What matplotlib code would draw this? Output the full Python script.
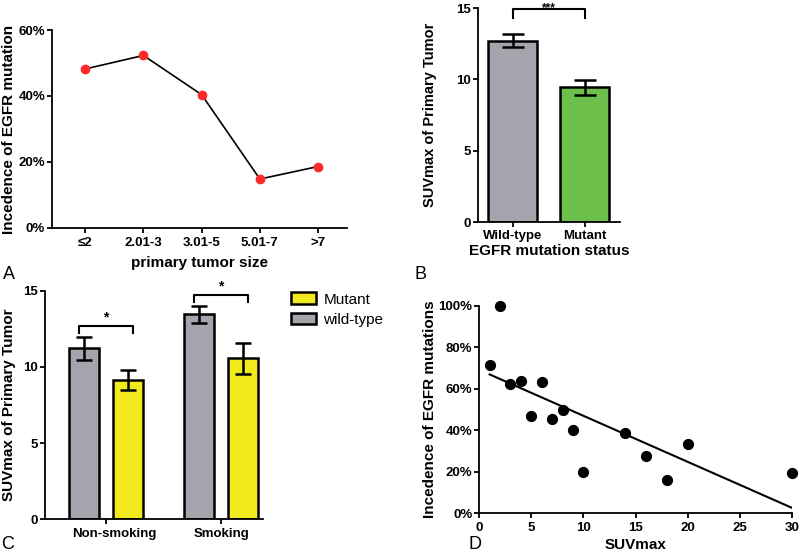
import numpy as np
import matplotlib
matplotlib.use("Agg")
import matplotlib.pyplot as plt
from matplotlib.patches import Patch
from matplotlib.ticker import FuncFormatter
from matplotlib.transforms import blended_transform_factory, ScaledTranslation

plt.rcParams['font.family'] = ['Liberation Sans', 'DejaVu Sans']

# ---- Panel A data ----
size_cats = ['≤2', '2.01-3', '3.01-5', '5.01-7', '>7']
size_incidence = [48.2, 52.3, 40.4, 14.8, 18.6]

# ---- Panel B data ----
status_cats = ['Wild-type', 'Mutant']
status_mean = [12.7, 9.45]
status_err = [0.45, 0.53]

# ---- Panel C data ----
smoke_cats = ['Non-smoking', 'Smoking']
wild_mean = [11.22, 13.45]
wild_err = [0.77, 0.57]
mut_mean = [9.14, 10.56]
mut_err = [0.65, 1.04]

# ---- Panel D data ----
suv = [1, 2, 3, 4, 5, 6, 7, 8, 9, 10, 14, 16, 18, 20, 30]
incid = [71.3, 100, 62.3, 63.7, 47, 63.2, 45.4, 49.9, 40, 19.9, 38.8, 27.6, 16, 33.2, 19.3]

GRAY = '#a4a4ac'
GREEN = '#6cbf4a'
YELLOW = '#f2ea1c'
RED = '#ff2a2a'

TICKFS = 9.5
LABFS = 11

fig = plt.figure(figsize=(8, 5.57), dpi=100)


def style(ax):
    for s in ['top', 'right']:
        ax.spines[s].set_visible(False)
    for s in ['left', 'bottom']:
        ax.spines[s].set_linewidth(1.3)
    ax.tick_params(direction='out', length=3.5, width=1.3, labelsize=TICKFS, pad=1.5)
    for lab in ax.get_xticklabels() + ax.get_yticklabels():
        lab.set_fontweight('bold')


pct = FuncFormatter(lambda v, p: f'{v:.0f}%')

# ---------- A ----------
axA = fig.add_axes([0.065, 0.591, 0.369, 0.355])
xa = np.arange(len(size_cats))
axA.plot(xa, size_incidence, color='black', lw=1.2, zorder=2)
axA.plot(xa, size_incidence, 'o', color=RED, ms=6, zorder=3, clip_on=False)
axA.set_xlim(-0.57, 4.5)
axA.set_ylim(0, 60)
axA.set_yticks([0, 20, 40, 60])
axA.yaxis.set_major_formatter(pct)
axA.set_xticks(xa)
axA.set_xticklabels(size_cats)
style(axA)
axA.tick_params(axis='x', pad=3)
axA.set_ylabel('Incedence of EGFR mutation', fontsize=LABFS, fontweight='bold', labelpad=2)
axA.set_xlabel('primary tumor size', fontsize=LABFS, fontweight='bold', labelpad=5)
fig.text(0.004, 0.508, 'A', fontsize=13, ha='left', va='center')

# ---------- B ----------
axB = fig.add_axes([0.5975, 0.6014, 0.1775, 0.3842])
xb = np.arange(len(status_cats))
axB.bar(xb, status_mean, width=0.676, color=[GRAY, GREEN], edgecolor='black', lw=1.8, zorder=2)
axB.errorbar(xb, status_mean, yerr=status_err, fmt='none', ecolor='black',
             elinewidth=1.8, capsize=8, capthick=1.8, zorder=3)
axB.set_xlim(-0.476, 1.483)
axB.set_ylim(0, 15)
axB.set_yticks([0, 5, 10, 15])
axB.set_xticks(xb)
axB.set_xticklabels(status_cats)
style(axB)
axB.tick_params(axis='x', pad=2.5)
axB.set_ylabel('SUVmax of Primary Tumor', fontsize=10.5, fontweight='bold', labelpad=14)
axB.set_xlabel('EGFR mutation status', fontsize=LABFS, fontweight='bold', labelpad=1)
by = 14.9
axB.plot([xb[0], xb[0], xb[1], xb[1]], [by - 0.6, by, by, by - 0.6], color='black', lw=1.5, clip_on=False)
trB = blended_transform_factory(axB.transData, fig.transFigure)
axB.text((xb[0] + xb[1]) / 2, 0.997, '***', ha='center', va='top', fontsize=8.5,
         fontweight='bold', transform=trB)
fig.text(0.518, 0.508, 'B', fontsize=13, ha='left', va='center')

# ---------- C ----------
axC = fig.add_axes([0.056, 0.0677, 0.273, 0.4103])
xc = np.arange(len(smoke_cats))
off = 0.19
w = 0.26
axC.bar(xc - off, wild_mean, width=w, color=GRAY, edgecolor='black', lw=1.8, zorder=2)
axC.bar(xc + off, mut_mean, width=w, color=YELLOW, edgecolor='black', lw=1.8, zorder=2)
axC.errorbar(xc - off, wild_mean, yerr=wild_err, fmt='none', ecolor='black',
             elinewidth=1.8, capsize=6, capthick=1.8, zorder=3)
axC.errorbar(xc + off, mut_mean, yerr=mut_err, fmt='none', ecolor='black',
             elinewidth=1.8, capsize=6, capthick=1.8, zorder=3)
axC.set_xlim(-0.53, 1.365)
axC.set_ylim(0, 15)
axC.set_yticks([0, 5, 10, 15])
axC.set_xticks(xc)
axC.set_xticklabels(smoke_cats)
style(axC)
axC.tick_params(axis='x', pad=3)
lab0 = axC.get_xticklabels()[0]
lab0.set_transform(lab0.get_transform() + ScaledTranslation(6 / 72, 0, fig.dpi_scale_trans))
axC.set_ylabel('SUVmax of Primary Tumor', fontsize=LABFS, fontweight='bold', labelpad=5)
bracket_y = [12.7, 14.7]
for i, yb in enumerate(bracket_y):
    x0, x1 = xc[i] - 0.235, xc[i] + 0.235
    axC.plot([x0, x0, x1, x1], [yb - 0.45, yb, yb, yb - 0.45], color='black', lw=1.5, clip_on=False)
    axC.text((x0 + x1) / 2, yb + 0.1, '*', ha='center', va='bottom', fontsize=10, fontweight='bold')
handles = [Patch(facecolor=YELLOW, edgecolor='black', lw=1.8, label='Mutant'),
           Patch(facecolor=GRAY, edgecolor='black', lw=1.8, label='wild-type')]
fig.legend(handles=handles, loc='upper left', bbox_to_anchor=(0.349, 0.497),
           frameon=False, fontsize=11, handlelength=1.6, handleheight=0.8,
           handletextpad=0.5, labelspacing=0.4, borderpad=0.3)
fig.text(0.002, 0.022, 'C', fontsize=13, ha='left', va='center')

# ---------- D ----------
axD = fig.add_axes([0.599, 0.0785, 0.391, 0.3726])
suv_a = np.array(suv, dtype=float)
inc_a = np.array(incid, dtype=float)
slope, icpt = np.polyfit(suv_a, inc_a, 1)
xl = np.array([suv_a.min(), suv_a.max()])
axD.plot(xl, slope * xl + icpt, color='black', lw=1.5, zorder=2)
axD.scatter(suv_a, inc_a, s=50, color='black', zorder=3, clip_on=False)
axD.set_xlim(0, 30)
axD.set_ylim(0, 100)
axD.set_xticks([0, 5, 10, 15, 20, 25, 30])
axD.set_yticks([0, 20, 40, 60, 80, 100])
axD.yaxis.set_major_formatter(pct)
style(axD)
axD.tick_params(axis='x', pad=3)
axD.set_ylabel('Incedence of EGFR mutations', fontsize=LABFS, fontweight='bold', labelpad=1)
axD.set_xlabel('SUVmax', fontsize=LABFS, fontweight='bold', labelpad=3)
fig.text(0.585, 0.022, 'D', fontsize=13, ha='left', va='center')

fig.savefig('out.png', dpi=100)
